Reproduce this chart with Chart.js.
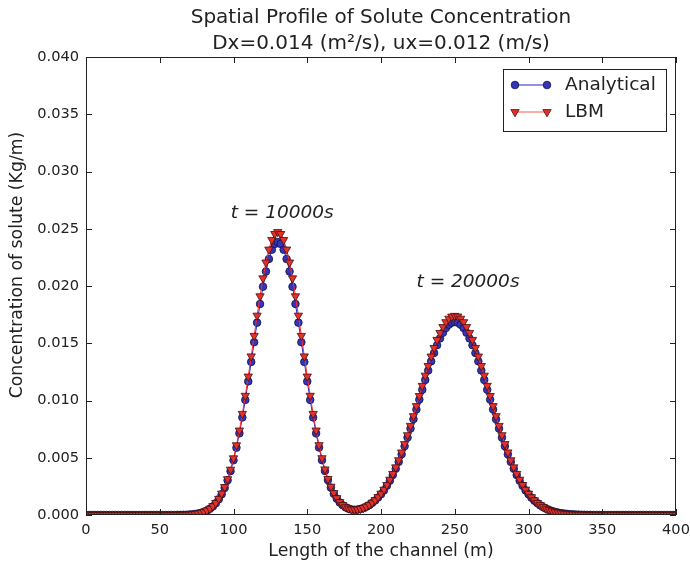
<!DOCTYPE html>
<html>
<head>
<meta charset="utf-8">
<script src="https://cdn.jsdelivr.net/npm/chart.js@4"></script>
<style>
  html, body { margin: 0; padding: 0; background: #fff; }
</style>
</head>
<body>
<canvas id="profileChart" width="690" height="568"></canvas>
<script>
// x positions along the channel (m), every 2 m
const lengthM = [
  0,2,4,6,8,10,12,14,16,18,20,22,24,26,28,30,32,34,36,38,
  40,42,44,46,48,50,52,54,56,58,60,62,64,66,68,70,72,74,76,78,
  80,82,84,86,88,90,92,94,96,98,100,102,104,106,108,110,112,114,116,118,
  120,122,124,126,128,130,132,134,136,138,140,142,144,146,148,150,152,154,156,158,
  160,162,164,166,168,170,172,174,176,178,180,182,184,186,188,190,192,194,196,198,
  200,202,204,206,208,210,212,214,216,218,220,222,224,226,228,230,232,234,236,238,
  240,242,244,246,248,250,252,254,256,258,260,262,264,266,268,270,272,274,276,278,
  280,282,284,286,288,290,292,294,296,298,300,302,304,306,308,310,312,314,316,318,
  320,322,324,326,328,330,332,334,336,338,340,342,344,346,348,350,352,354,356,358,
  360,362,364,366,368,370,372,374,376,378,380,382,384,386,388,390,392,394,396,398,
  400
];

// concentration (Kg/m), analytical solution
const analytical = [
  0,0,0,0,0,0,0,0,0,0, 0,0,0,0,0,0,0,0,0,0, 0,0,0,0,0,0,0,0,0,0, 0,            // 0-60
  0.00001,0.00001,0.00002,0.00002,0.00004,0.00006,0.00009,0.00013,0.00019,0.00027, // 62-80
  0.00039,0.00054,0.00075,0.00102,0.00137,0.00181,0.00236,0.00303,0.00383,0.00478, // 82-100
  0.00588,0.00713,0.00852,0.01005,0.01167,0.01337,0.01509,0.01680,0.01843,0.01994, // 102-120
  0.02127,0.02236,0.02317,0.02367,0.02384,0.02367,0.02317,0.02236,0.02127,0.01994, // 122-140
  0.01843,0.01680,0.01509,0.01337,0.01167,0.01005,0.00852,0.00713,0.00589,0.00479, // 142-160
  0.00385,0.00305,0.00239,0.00185,0.00143,0.00109,0.00085,0.00067,0.00055,0.00048, // 162-180
  0.00046,0.00047,0.00053,0.00060,0.00072,0.00086,0.00105,0.00126,0.00152,0.00181, // 182-200
  0.00215,0.00255,0.00299,0.00349,0.00404,0.00464,0.00530,0.00601,0.00676,0.00755, // 202-220
  0.00837,0.00922,0.01008,0.01094,0.01180,0.01262,0.01342,0.01415,0.01483,0.01542, // 222-240
  0.01592,0.01633,0.01662,0.01680,0.01686,0.01680,0.01662,0.01633,0.01592,0.01542, // 242-260
  0.01483,0.01415,0.01342,0.01262,0.01180,0.01094,0.01008,0.00922,0.00837,0.00755, // 262-280
  0.00676,0.00601,0.00530,0.00464,0.00404,0.00349,0.00299,0.00255,0.00215,0.00181, // 282-300
  0.00151,0.00125,0.00103,0.00084,0.00068,0.00054,0.00044,0.00034,0.00027,0.00021, // 302-320
  0.00016,0.00013,0.00010,0.00007,0.00006,0.00004,0.00003,0.00002,0.00002,0.00001, // 322-340
  0.00001,0,0,0,0,0,0,0,0,0,                                                       // 342-360
  0,0,0,0,0,0,0,0,0,0,                                                             // 362-380
  0,0,0,0,0,0,0,0,0,0                                                              // 382-400
];

// concentration (Kg/m), LBM result
const lbm = [
  0,0,0,0,0,0,0,0,0,0, 0,0,0,0,0,0,0,0,0,0, 0,0,0,0,0,0,0,0,0,0, 0,            // 0-60
  0.00001,0.00001,0.00002,0.00002,0.00004,0.00006,0.00009,0.00013,0.00020,0.00028, // 62-80
  0.00040,0.00056,0.00078,0.00106,0.00142,0.00188,0.00245,0.00314,0.00397,0.00496, // 82-100
  0.00610,0.00739,0.00884,0.01042,0.01210,0.01386,0.01565,0.01742,0.01911,0.02068, // 102-120
  0.02206,0.02319,0.02403,0.02455,0.02472,0.02455,0.02403,0.02319,0.02206,0.02068, // 122-140
  0.01911,0.01742,0.01565,0.01386,0.01210,0.01042,0.00884,0.00739,0.00611,0.00497, // 142-160
  0.00399,0.00316,0.00248,0.00192,0.00148,0.00113,0.00088,0.00069,0.00057,0.00050, // 162-180
  0.00048,0.00048,0.00054,0.00062,0.00074,0.00089,0.00108,0.00130,0.00157,0.00187, // 182-200
  0.00222,0.00263,0.00309,0.00360,0.00417,0.00479,0.00547,0.00620,0.00698,0.00779, // 202-220
  0.00864,0.00952,0.01040,0.01129,0.01218,0.01302,0.01385,0.01460,0.01530,0.01591, // 222-240
  0.01643,0.01685,0.01715,0.01734,0.01740,0.01734,0.01715,0.01685,0.01643,0.01591, // 242-260
  0.01530,0.01460,0.01385,0.01302,0.01218,0.01129,0.01040,0.00952,0.00864,0.00779, // 262-280
  0.00698,0.00620,0.00547,0.00479,0.00417,0.00360,0.00309,0.00263,0.00222,0.00187, // 282-300
  0.00156,0.00129,0.00106,0.00087,0.00070,0.00056,0.00045,0.00035,0.00028,0.00022, // 302-320
  0.00017,0.00013,0.00010,0.00007,0.00006,0.00004,0.00003,0.00002,0.00002,0.00001, // 322-340
  0.00001,0,0,0,0,0,0,0,0,0,                                                       // 342-360
  0,0,0,0,0,0,0,0,0,0,                                                             // 362-380
  0,0,0,0,0,0,0,0,0,0                                                              // 382-400
];

const xTicks = [0, 50, 100, 150, 200, 250, 300, 350, 400];
const yTicks = [0, 0.005, 0.010, 0.015, 0.020, 0.025, 0.030, 0.035, 0.040];

const titleLines = ['Spatial Profile of Solute Concentration', 'Dx=0.014 (m\u00b2/s), ux=0.012 (m/s)'];
const yTitle = 'Concentration of solute (Kg/m)';
const timeLabels = ['t = 10000s', 't = 20000s'];
const timeLabelX = [133, 259];
const timeLabelY = [0.0264, 0.0203];

const FONT = "'DejaVu Sans', 'Liberation Sans', sans-serif";
const TEXT = '#222';
const BLUE_LINE = '#2424d0', BLUE_FILL = '#3434bc', BLUE_EDGE = '#12123a';
const RED_LINE = '#ff2a2a', RED_FILL = '#e3302a', RED_EDGE = '#451010';

Chart.defaults.font.family = FONT;
Chart.defaults.color = TEXT;

function drawCircle(ctx, x, y) {
  ctx.beginPath();
  ctx.arc(x, y, 3.8, 0, Math.PI * 2);
  ctx.fillStyle = BLUE_FILL; ctx.fill();
  ctx.lineWidth = 0.8; ctx.strokeStyle = BLUE_EDGE; ctx.stroke();
}

function drawTriDown(ctx, x, y) {
  const r = 4.8;
  ctx.beginPath();
  ctx.moveTo(x, y + r);
  ctx.lineTo(x - r * 0.866, y - r / 2);
  ctx.lineTo(x + r * 0.866, y - r / 2);
  ctx.closePath();
  ctx.fillStyle = RED_FILL; ctx.fill();
  ctx.lineWidth = 0.8; ctx.strokeStyle = RED_EDGE; ctx.stroke();
}

// frame with inward ticks, titles, time labels and the legend box
const axesDecor = {
  id: 'axesDecor',
  afterDatasetsDraw(chart) {
    const { ctx, chartArea: a, scales: { x, y } } = chart;
    ctx.save();
    ctx.strokeStyle = '#222';
    ctx.lineWidth = 1;
    ctx.strokeRect(Math.round(a.left) + 0.5, Math.round(a.top) + 0.5,
                   Math.round(a.right - a.left) - 1, Math.round(a.bottom - a.top) - 1);
    const tl = 6;
    ctx.beginPath();
    xTicks.forEach(v => {
      const px = Math.round(x.getPixelForValue(v)) + 0.5;
      ctx.moveTo(px, a.bottom); ctx.lineTo(px, a.bottom - tl);
      ctx.moveTo(px, a.top); ctx.lineTo(px, a.top + tl);
    });
    yTicks.forEach(v => {
      const py = Math.round(y.getPixelForValue(v)) + 0.5;
      ctx.moveTo(a.left, py); ctx.lineTo(a.left + tl, py);
      ctx.moveTo(a.right, py); ctx.lineTo(a.right - tl, py);
    });
    ctx.stroke();
    ctx.restore();
  },
  afterDraw(chart) {
    const { ctx, chartArea: a, scales: { x, y } } = chart;
    const cx = (a.left + a.right) / 2;
    ctx.save();
    ctx.fillStyle = TEXT;
    ctx.textAlign = 'center';
    ctx.textBaseline = 'middle';

    ctx.font = '20px ' + FONT;
    ctx.fillText(titleLines[0], cx, 18);
    ctx.fillText(titleLines[1], cx, 44);

    ctx.save();
    ctx.font = '17.3px ' + FONT;
    ctx.translate(18, (a.top + a.bottom) / 2 - 21);
    ctx.rotate(-Math.PI / 2);
    ctx.fillText(yTitle, 0, 0);
    ctx.restore();

    ctx.font = 'italic 18.5px ' + FONT;
    timeLabels.forEach((t, i) => {
      ctx.fillText(t, x.getPixelForValue(timeLabelX[i]), y.getPixelForValue(timeLabelY[i]));
    });

    // legend
    const bx = a.right - 173, by = a.top + 12, bw = 163, bh = 62;
    ctx.fillStyle = '#fff';
    ctx.fillRect(bx, by, bw, bh);
    ctx.strokeStyle = '#222';
    ctx.lineWidth = 1;
    ctx.strokeRect(Math.round(bx) + 0.5, Math.round(by) + 0.5, bw, bh);
    const x1 = bx + 12, x2 = bx + 44;
    const y1 = by + 16, y2 = by + 43;
    ctx.strokeStyle = BLUE_LINE;
    ctx.beginPath(); ctx.moveTo(x1, y1); ctx.lineTo(x2, y1); ctx.stroke();
    drawCircle(ctx, x1, y1); drawCircle(ctx, x2, y1);
    ctx.strokeStyle = RED_LINE;
    ctx.beginPath(); ctx.moveTo(x1, y2); ctx.lineTo(x2, y2); ctx.stroke();
    drawTriDown(ctx, x1, y2); drawTriDown(ctx, x2, y2);
    ctx.fillStyle = TEXT;
    ctx.font = '18.5px ' + FONT;
    ctx.textAlign = 'left';
    ctx.fillText('Analytical', bx + 62, y1);
    ctx.fillText('LBM', bx + 62, y2);
    ctx.restore();
  }
};

new Chart(document.getElementById('profileChart'), {
  type: 'line',
  data: {
    datasets: [
      {
        label: 'Analytical',
        data: lengthM.map((v, i) => ({ x: v, y: analytical[i] })),
        borderColor: BLUE_LINE, borderWidth: 1,
        pointStyle: 'circle', pointRadius: 3.8,
        pointBackgroundColor: BLUE_FILL, pointBorderColor: BLUE_EDGE, pointBorderWidth: 0.8,
        tension: 0, order: 2, clip: 0
      },
      {
        label: 'LBM',
        data: lengthM.map((v, i) => ({ x: v, y: lbm[i] })),
        borderColor: RED_LINE, borderWidth: 1,
        pointStyle: 'triangle', rotation: 180, pointRadius: 4.8,
        pointBackgroundColor: RED_FILL, pointBorderColor: RED_EDGE, pointBorderWidth: 0.8,
        tension: 0, order: 1, clip: 0
      }
    ]
  },
  options: {
    responsive: false,
    animation: false,
    events: [],
    layout: { padding: { left: 0, right: 14, top: 57, bottom: 0 } },
    plugins: {
      legend: { display: false },
      tooltip: { enabled: false },
      title: { display: false }
    },
    scales: {
      x: {
        type: 'linear', min: 0, max: 400,
        grid: { display: false, drawTicks: false },
        border: { display: false },
        ticks: { stepSize: 50, padding: 6, color: TEXT, maxRotation: 0, font: { size: 14.6 } },
        title: { display: true, text: 'Length of the channel (m)', color: TEXT,
                 font: { size: 17.3 }, padding: { top: 0, bottom: 6 } },
        afterFit: s => { s.height = 53; s.paddingLeft = 0; s.paddingRight = 0; }
      },
      y: {
        type: 'linear', min: 0, max: 0.04,
        grid: { display: false, drawTicks: false },
        border: { display: false },
        ticks: { stepSize: 0.005, padding: 7, color: TEXT, font: { size: 14.6 },
                 callback: v => v.toFixed(3) },
        title: { display: false },
        afterFit: s => { s.width = 86; s.paddingTop = 0; s.paddingBottom = 0; }
      }
    }
  },
  plugins: [axesDecor]
});
</script>
</body>
</html>
